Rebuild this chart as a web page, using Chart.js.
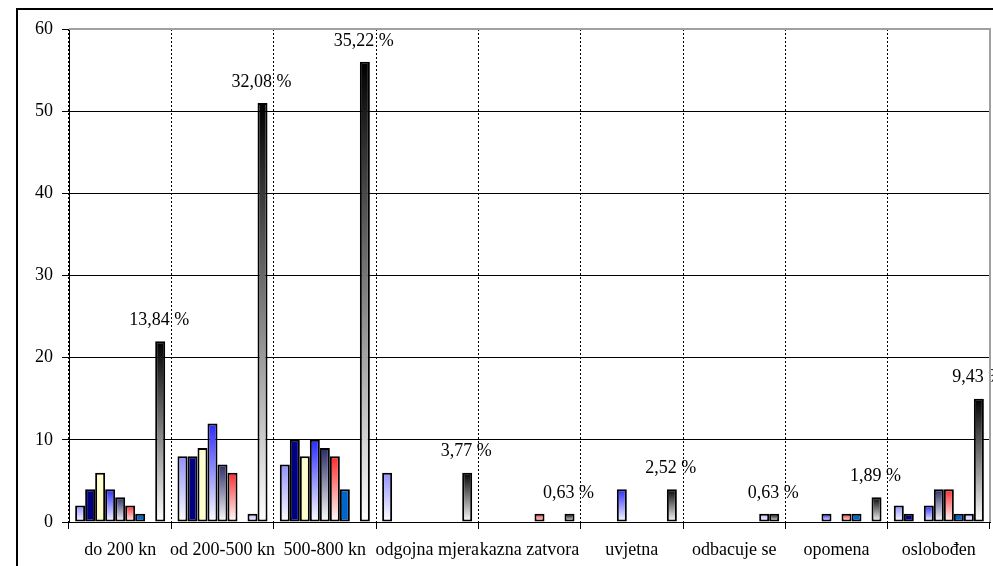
<!DOCTYPE html>
<html>
<head>
<meta charset="utf-8">
<script src="https://cdn.jsdelivr.net/npm/chart.js@4/dist/chart.umd.min.js"></script>
<style>
  body { margin: 0; background: #fff; }
  canvas { display: block; }
</style>
</head>
<body>
<canvas id="grafico" width="993" height="566"></canvas>
<script>
// kategorije
const kategorije = ['do 200 kn', 'od 200-500 kn', '500-800 kn', 'odgojna mjera', 'kazna zatvora', 'uvjetna', 'odbacuje se', 'opomena', 'oslobođen'];

// serije (9 stupaca po kategoriji)
const serija1 = [2, 8, 7, 6, 0, 0, 0, 0, 2];
const serija2 = [4, 8, 10, 0, 0, 0, 0, 0, 1];
const serija3 = [6, 9, 8, 0, 0, 0, 0, 0, 0];
const serija4 = [4, 12, 10, 0, 0, 4, 0, 1, 2];
const serija5 = [3, 7, 9, 0, 0, 0, 0, 0, 4];
const serija6 = [2, 6, 8, 0, 1, 0, 0, 1, 4];
const serija7 = [1, 0, 4, 0, 0, 0, 0, 1, 1];
const serija8 = [0, 1, 0, 0, 0, 0, 1, 0, 1];
const ukupno = [22, 51, 56, 6, 1, 4, 1, 3, 15];

const yTicks = [0, 10, 20, 30, 40, 50, 60];

const serif = '"Liberation Serif", "Times New Roman", serif';

// boja: gornja + donja -> gradijent, ili jedna boja
function boja(top, bottom) {
    return function (ctx) {
        if (!bottom) return top;
        const chart = ctx.chart;
        if (!chart.chartArea) return top;
        const v = ctx.dataset.data[ctx.dataIndex];
        const y = chart.scales.y;
        const y1 = y.getPixelForValue(v);
        const y0 = y.getPixelForValue(0);
        if (!(y0 - y1 > 0)) return top;
        const g = chart.ctx.createLinearGradient(0, y1, 0, y0);
        g.addColorStop(0, top);
        g.addColorStop(1, bottom);
        return g;
    };
}

function serija(data, bg) {
    return {
        data: data,
        backgroundColor: bg,
        borderColor: '#000',
        borderWidth: function (ctx) {
            return ctx.dataset.data[ctx.dataIndex] ? 2 : 0;
        },
        borderSkipped: false,
        barPercentage: 1,
        categoryPercentage: 0.88
    };
}

const totalSum = ukupno.reduce(function (a, b) { return a + b; }, 0);

const postoci = {
    id: 'postoci',
    afterDatasetsDraw: function (chart) {
        const c = chart.ctx;
        const meta = chart.getDatasetMeta(8);
        c.save();
        c.font = '18px ' + serif;
        c.fillStyle = '#000';
        c.textAlign = 'center';
        c.textBaseline = 'middle';
        meta.data.forEach(function (bar, i) {
            const v = ukupno[i];
            const txt = (v / totalSum * 100).toFixed(2).replace('.', ',') + ' %';
            c.fillText(txt, bar.x - 1, bar.y - 21);
        });
        c.restore();
    }
};

const okvir = {
    id: 'okvir',
    beforeDraw: function (chart) {
        const c = chart.ctx;
        c.save();
        c.fillStyle = '#fff';
        c.fillRect(0, 0, chart.width, chart.height);
        c.strokeStyle = '#000';
        c.lineWidth = 2;
        c.strokeRect(17, 9, chart.width + 20, chart.height + 20);
        c.restore();
    },
    afterDraw: function (chart) {
        const a = chart.chartArea;
        const c = chart.ctx;
        c.save();
        c.strokeStyle = '#a0a0a0';
        c.lineWidth = 2;
        c.beginPath();
        c.moveTo(a.left, a.top);
        c.lineTo(a.right, a.top);
        c.lineTo(a.right, a.bottom);
        c.stroke();
        c.restore();
    }
};

new Chart(document.getElementById('grafico'), {
    type: 'bar',
    data: {
        labels: kategorije,
        datasets: [
            serija(serija1, boja('#9090ff', '#ffffff')),
            serija(serija2, boja('#000080')),
            serija(serija3, boja('#ffffcc')),
            serija(serija4, boja('#2a2aff', '#ffffff')),
            serija(serija5, boja('#2b2b66', '#ffffff')),
            serija(serija6, boja('#ff2a2a', '#ffffff')),
            serija(serija7, boja('#0066cc')),
            serija(serija8, boja('#b8b8ff', '#ffffff')),
            serija(ukupno, boja('#000000', '#ffffff'))
        ]
    },
    options: {
        responsive: false,
        devicePixelRatio: 1,
        animation: false,
        layout: {
            padding: { left: 18, top: 29, right: 3, bottom: 0 }
        },
        plugins: {
            legend: { display: false },
            tooltip: { enabled: false }
        },
        scales: {
            x: {
                grid: {
                    offset: true,
                    color: '#000',
                    lineWidth: 1,
                    tickLength: 7,
                    tickColor: '#000',
                    borderDash: [2, 2]
                },
                border: { color: '#000', width: 1, dash: [2, 2] },
                ticks: {
                    autoSkip: false,
                    maxRotation: 0,
                    minRotation: 0,
                    padding: 10,
                    color: '#000',
                    font: { family: serif, size: 18 }
                },
                afterFit: function (s) { s.height = 44; }
            },
            y: {
                min: 0,
                max: 60,
                afterBuildTicks: function (s) {
                    s.ticks = yTicks.map(function (v) { return { value: v }; });
                },
                grid: {
                    color: function (ctx) {
                        return ctx.tick && ctx.tick.value === 60 ? 'rgba(0,0,0,0)' : '#000';
                    },
                    lineWidth: 1,
                    tickLength: 7,
                    tickColor: '#000'
                },
                border: { color: '#000', width: 1 },
                ticks: {
                    padding: 9,
                    color: '#000',
                    font: { family: serif, size: 18 }
                },
                afterFit: function (s) { s.width = 51; }
            }
        }
    },
    plugins: [okvir, postoci]
});
</script>
</body>
</html>
